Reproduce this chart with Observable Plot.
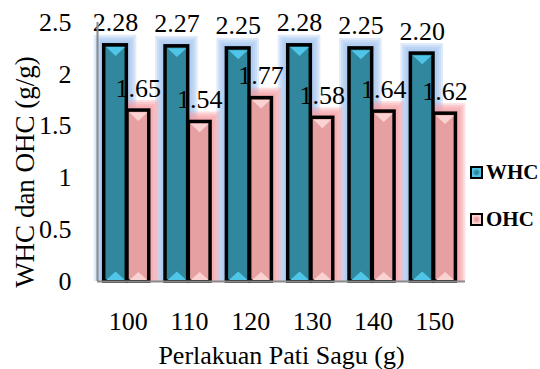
<!DOCTYPE html>
<html>
<head>
<meta charset="utf-8">
<script src="https://cdn.jsdelivr.net/npm/d3@7"></script>
<script src="https://cdn.jsdelivr.net/npm/@observablehq/plot@0.6"></script>
<style>
  html, body { margin: 0; padding: 0; background: #fff; }
  #wrap { position: relative; width: 540px; height: 369px; overflow: hidden; font-family: "Liberation Serif", "Times New Roman", serif; }
  #wrap svg text { font-family: "Liberation Serif", "Times New Roman", serif; }
  .legend { position: absolute; left: 470px; font-weight: bold; font-size: 21px; line-height: 21px; display: flex; align-items: center; color: #000; }
  .sw { width: 9px; height: 9px; border: 2.5px solid #000; margin-right: 3px; }
</style>
</head>
<body>
<div id="wrap"></div>
<script>
const categories = ["100", "110", "120", "130", "140", "150"];
const whc = [2.28, 2.27, 2.25, 2.28, 2.25, 2.20];
const ohc = [1.65, 1.54, 1.77, 1.58, 1.64, 1.62];
const yTicks = [0, 0.5, 1, 1.5, 2, 2.5];
const seriesNames = ["WHC", "OHC"];
const xTitle = "Perlakuan Pati Sagu (g)";
const yTitle = "WHC dan OHC (g/g)";

const data = categories.map((c, i) => ({cat: c, whc: whc[i], ohc: ohc[i]}));

const FONT = "Liberation Serif";
const colWHC = "#31879d", triWHC = "#4fc6e8", glowWHC = "#9fc1f0";
const colOHC = "#e7a0a1", triOHC = "#fbd2d2", glowOHC = "#f59aa2";

const down = {draw(ctx, size) { const r = Math.sqrt(size / Math.PI); ctx.moveTo(-r, 0); ctx.lineTo(r, 0); ctx.lineTo(0, r * 0.95); ctx.closePath(); }};
const up = {draw(ctx, size) { const r = Math.sqrt(size / Math.PI); ctx.moveTo(-r, 0); ctx.lineTo(r, 0); ctx.lineTo(0, -r * 0.9); ctx.closePath(); }};

const W = {insetLeft: 6.7, insetRight: 32};
const O = {insetLeft: 30, insetRight: 9.6};
const dxW = -12.6, dxO = 10.2;
const step = 368 / categories.length;

// soft glow made of a few widened translucent copies of each bar
const glowSizes = [10, 8, 6, 4, 2];
const glow = (field, ins, color) => glowSizes.map(k => Plot.barY(data, {
  x: "cat", y: field, fill: color, fillOpacity: 0.33,
  insetLeft: ins.insetLeft - k, insetRight: ins.insetRight - k, insetTop: -k
}));

const chart = Plot.plot({
  width: 540,
  height: 369,
  marginLeft: 97,
  marginRight: 75,
  marginTop: 22,
  marginBottom: 88,
  style: {fontFamily: FONT, fontSize: "26px", background: "transparent", overflow: "visible", color: "#000"},
  x: {domain: categories, padding: 0, round: false},
  y: {domain: [0, 2.5], ticks: yTicks},
  marks: [
    ...glow("whc", W, glowWHC),
    ...glow("ohc", O, glowOHC),
    Plot.barY(data, {x: "cat", y: "whc", fill: colWHC, stroke: "#000", strokeWidth: 3.5, ...W}),
    Plot.barY(data, {x: "cat", y: "ohc", fill: colOHC, stroke: "#000", strokeWidth: 3.5, ...O}),
    Plot.dot(data, {x: "cat", y: "whc", dx: dxW, dy: 1.8, symbol: down, r: 9.4, fill: triWHC, stroke: null}),
    Plot.dot(data, {x: "cat", y: "ohc", dx: dxO, dy: 1.8, symbol: down, r: 9.0, fill: triOHC, stroke: null}),
    Plot.dot(data, {x: "cat", y: () => 0, dx: dxW, dy: -1.5, symbol: up, r: 9.4, fill: triWHC, stroke: null}),
    Plot.dot(data, {x: "cat", y: () => 0, dx: dxO, dy: -1.5, symbol: up, r: 9.0, fill: triOHC, stroke: null}),
    Plot.text(data, {x: "cat", y: "whc", text: d => d.whc.toFixed(2), dx: dxW, dy: -14, lineAnchor: "bottom", fontSize: 26, fontFamily: FONT, fill: "#000"}),
    Plot.text(data, {x: "cat", y: "ohc", text: d => d.ohc.toFixed(2), dx: dxO, dy: -14, lineAnchor: "bottom", fontSize: 26, fontFamily: FONT, fill: "#000"}),
    Plot.ruleY([0], {stroke: "#8a8a8a", strokeWidth: 2}),
    Plot.ruleX([categories[0]], {dx: -step / 2, stroke: "#8a8a8a", strokeWidth: 2}),
    Plot.axisY({ticks: yTicks, tickFormat: d => String(d), tickSize: 0, tickPadding: 26, fontSize: 26, fontFamily: FONT, label: null}),
    Plot.axisX({tickSize: 0, tickPadding: 30, fontSize: 26, fontFamily: FONT, label: xTitle, labelAnchor: "center", labelOffset: 82}),
    Plot.text([yTitle], {text: d => d, frameAnchor: "left", textAnchor: "middle", rotate: -90, dx: -64, dy: 20, lineAnchor: "bottom", fontSize: 27, fontFamily: FONT, fill: "#000"})
  ]
});

const wrap = document.getElementById("wrap");
wrap.appendChild(chart);

// legend
[[seriesNames[0], colWHC, triWHC, 162], [seriesNames[1], colOHC, triOHC, 209]].forEach(([name, c, t, top]) => {
  const el = document.createElement("div");
  el.className = "legend";
  el.style.top = top + "px";
  el.innerHTML = `<span class="sw" style="background: radial-gradient(circle, ${c} 0 25%, ${t} 60%);"></span><span>${name}</span>`;
  wrap.appendChild(el);
});
</script>
</body>
</html>
